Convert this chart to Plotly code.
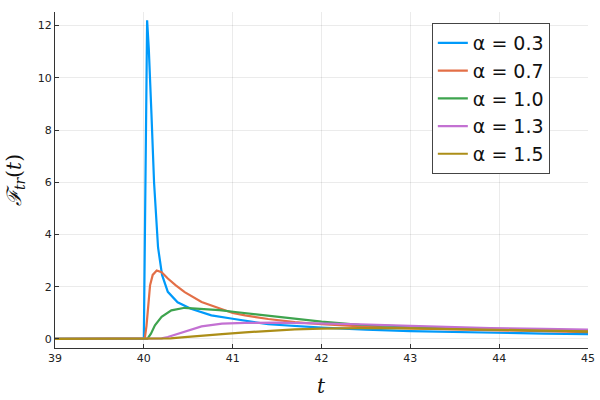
import plotly.graph_objects as go

# ---- data ----
labels = ["α = 0.3", "α = 0.7", "α = 1.0", "α = 1.3", "α = 1.5"]
colors = ["#009AFA", "#E36F47", "#3EA44E", "#C371D2", "#AC8E18"]

t_a03 = [39.0, 40.0, 40.037, 40.056, 40.086, 40.115, 40.16, 40.205, 40.27, 40.38, 40.53,
         40.76, 41.0, 41.4, 42.0, 42.5, 43.0, 43.5, 44.0, 44.5, 45.0]
f_a03 = [0.0, 0.0, 12.2, 11.1, 8.6, 6.0, 3.5, 2.45, 1.8, 1.4, 1.15,
         0.9, 0.77, 0.56, 0.43, 0.35, 0.30, 0.26, 0.23, 0.20, 0.18]

t_a07 = [39.0, 40.01, 40.03, 40.05, 40.07, 40.1, 40.145, 40.2, 40.27, 40.36, 40.46, 40.65,
         40.88, 41.0, 41.14, 41.4, 41.7, 42.0, 42.5, 43.0, 43.5, 44.0, 44.5, 45.0]
f_a07 = [0.0, 0.0, 0.5, 1.28, 2.05, 2.45, 2.62, 2.55, 2.31, 2.05, 1.79, 1.41,
         1.12, 0.99, 0.90, 0.76, 0.64, 0.56, 0.47, 0.40, 0.36, 0.32, 0.29, 0.26]

t_a10 = [39.0, 40.04, 40.08, 40.125, 40.2, 40.31, 40.46, 40.65, 40.85, 41.03, 41.4,
         41.7, 42.0, 42.43, 43.0, 43.5, 43.9, 44.5, 45.0]
f_a10 = [0.0, 0.0, 0.2, 0.52, 0.84, 1.09, 1.19, 1.16, 1.10, 1.03, 0.88,
         0.77, 0.66, 0.54, 0.46, 0.40, 0.36, 0.32, 0.29]

t_a13 = [39.0, 40.12, 40.2, 40.27, 40.36, 40.46, 40.65, 40.88, 41.14, 41.5, 42.0,
         42.43, 43.0, 43.5, 43.9, 44.5, 45.0]
f_a13 = [0.0, 0.0, 0.02, 0.07, 0.17, 0.29, 0.48, 0.58, 0.61, 0.62, 0.60,
         0.56, 0.50, 0.45, 0.41, 0.38, 0.35]

t_a15 = [39.0, 40.2, 40.3, 40.46, 40.65, 40.88, 41.14, 41.4, 41.7, 42.0, 42.43,
         43.0, 43.5, 44.0, 44.5, 45.0]
f_a15 = [0.0, 0.0, 0.02, 0.07, 0.13, 0.18, 0.25, 0.31, 0.36, 0.39, 0.41,
         0.40, 0.38, 0.35, 0.32, 0.29]

series_t = [t_a03, t_a07, t_a10, t_a13, t_a15]
series_f = [f_a03, f_a07, f_a10, f_a13, f_a15]

x_ticks = [39, 40, 41, 42, 43, 44, 45]
y_ticks = [0, 2, 4, 6, 8, 10, 12]
x_title = "<i>t</i>"
y_title = "<i>ℱ</i><sub><i>tr</i></sub>(<i>t</i>)"

fig = go.Figure()
for t, f, lab, col in zip(series_t, series_f, labels, colors):
    fig.add_trace(go.Scatter(x=t, y=f, mode="lines", name=lab,
                             line=dict(color=col, width=2.2)))

axis_common = dict(
    showline=True, linecolor="#333333", linewidth=1, mirror=False,
    ticks="inside", ticklen=4, tickcolor="#333333",
    showgrid=True, gridcolor="rgba(0,0,0,0.08)", gridwidth=1,
    zeroline=False, tickfont=dict(size=11, color="#222222"),
    automargin=False,
)

fig.update_layout(
    width=600, height=400,
    margin=dict(l=55, r=12, t=12, b=52),
    paper_bgcolor="white", plot_bgcolor="white",
    font=dict(family="DejaVu Sans", color="#222222"),
    xaxis=dict(range=[39, 45], tickvals=x_ticks, **axis_common),
    yaxis=dict(range=[-0.35, 12.52], tickvals=y_ticks, **axis_common),
    legend=dict(x=0.707, y=0.967, xanchor="left", yanchor="top",
                bgcolor="white", bordercolor="#444444", borderwidth=1,
                font=dict(size=19, color="#111111"), tracegroupgap=0,
                itemwidth=30),
    showlegend=True,
)

fig.add_annotation(text=x_title, xref="paper", yref="paper",
                   x=0.5, y=-0.113, xanchor="center", yanchor="middle",
                   showarrow=False, font=dict(family="DejaVu Serif", size=20, color="#111111"))
fig.add_annotation(text=y_title, xref="paper", yref="paper",
                   x=-0.075, y=0.5, xanchor="center", yanchor="middle", textangle=-90,
                   showarrow=False, font=dict(family="DejaVu Serif", size=20, color="#111111"))

fig.write_html("out.html", config={"displayModeBar": False},
               post_script="document.body.style.margin='0';")
